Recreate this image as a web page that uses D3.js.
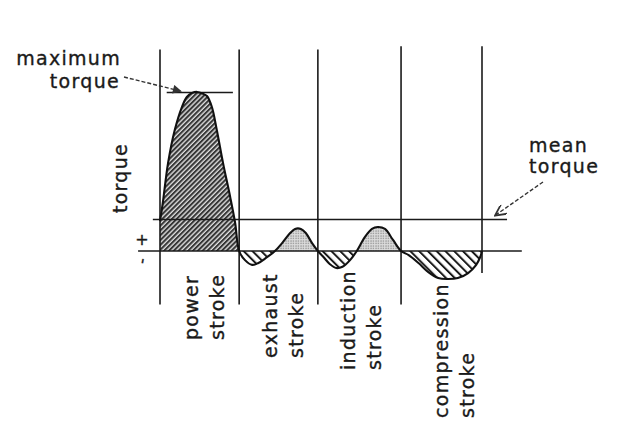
<!DOCTYPE html>
<html><head><meta charset="utf-8">
<script src="https://cdn.jsdelivr.net/npm/d3@7"></script>
<style>
body{margin:0;background:#fff}
svg{display:block}
text{font-family:"DejaVu Sans",sans-serif;font-size:19px;letter-spacing:1.3px;fill:#1a1a1a;stroke:#1a1a1a;stroke-width:0.35px}
</style>
</head><body>
<svg id="c" width="622" height="442"></svg>
<script>
// ---- data (crank angle in degrees, torque in units of mean torque) ----
const strokeNames = [["power","stroke"],["exhaust","stroke"],["induction","stroke"],["compression","stroke"]];
const strokeBounds = [0, 177, 353, 539, 720];
const crankDeg = [0, 6, 18, 33, 49, 60, 72, 83, 95, 105, 116, 127, 141, 157, 168, 177,
  190, 206, 220, 237, 257, 273, 291, 302, 315, 326, 340, 353,
  366, 380, 394, 408, 425, 440, 458, 474, 487, 503, 521, 539,
  556, 578, 600, 622, 644, 666, 689, 707, 716, 720];
const torqueVal = [0.95, 1.5, 2.79, 3.84, 4.57, 4.89, 5.02, 5.05, 5.0, 4.92, 4.57, 3.84, 2.79, 1.71, 0.89, 0,
  -0.29, -0.44, -0.38, -0.22, 0, 0.25, 0.57, 0.70, 0.70, 0.57, 0.25, 0,
  -0.2, -0.42, -0.54, -0.5, -0.29, 0, 0.44, 0.70, 0.76, 0.70, 0.35, 0,
  -0.13, -0.38, -0.67, -0.86, -0.89, -0.86, -0.70, -0.44, -0.19, 0];
const meanTorque = 1.0;
const maxTorque = 5.05;
const axisLabel = "torque";
const maxLabel = ["maximum", "torque"];
const meanLabel = ["mean", "torque"];

// ---- layout ----
const svg = d3.select("#c");
const x = d3.scaleLinear().domain([0, 720]).range([160, 482]);
const y = d3.scaleLinear().domain([0, 5]).range([251, 93.5]);
const pts = crankDeg.map((d, i) => ({deg: d, v: torqueVal[i]}));

const defs = svg.append("defs");
// dense "/" hatch for the power stroke
const pPow = defs.append("pattern").attr("id", "hPow").attr("patternUnits", "userSpaceOnUse")
  .attr("width", 3.4).attr("height", 3.4).attr("patternTransform", "rotate(45)");
pPow.append("rect").attr("width", 3.4).attr("height", 3.4).attr("fill", "#e0e0e0");
pPow.append("line").attr("x1", 1).attr("y1", 0).attr("x2", 1).attr("y2", 3.4)
  .attr("stroke", "#363636").attr("stroke-width", 2.1);
// sparse "\" hatch for negative torque
const pNeg = defs.append("pattern").attr("id", "hNeg").attr("patternUnits", "userSpaceOnUse")
  .attr("width", 6.2).attr("height", 6.2).attr("patternTransform", "rotate(-45)");
pNeg.append("line").attr("x1", 1).attr("y1", 0).attr("x2", 1).attr("y2", 6.2)
  .attr("stroke", "#1a1a1a").attr("stroke-width", 2);
// stipple for positive humps
const pDot = defs.append("pattern").attr("id", "hDot").attr("patternUnits", "userSpaceOnUse")
  .attr("width", 2.5).attr("height", 2.5);
pDot.append("rect").attr("width", 2.5).attr("height", 2.5).attr("fill", "#dcdcdc");
pDot.append("circle").attr("cx", 1).attr("cy", 1).attr("r", 0.7).attr("fill", "#8a8a8a");

defs.append("clipPath").attr("id", "cPow").append("rect")
  .attr("x", x(strokeBounds[0])).attr("y", 0).attr("width", x(strokeBounds[1]) - x(strokeBounds[0])).attr("height", 442);
defs.append("clipPath").attr("id", "cPos").append("rect")
  .attr("x", x(strokeBounds[1])).attr("y", 0).attr("width", x(720) - x(strokeBounds[1]) + 2).attr("height", y(0));
defs.append("clipPath").attr("id", "cNeg").append("rect")
  .attr("x", x(strokeBounds[1])).attr("y", y(0)).attr("width", x(720) - x(strokeBounds[1]) + 2).attr("height", 442 - y(0));

// arrow markers
defs.append("marker").attr("id", "aFill").attr("viewBox", "0 0 10 10").attr("refX", 10).attr("refY", 5)
  .attr("markerWidth", 12).attr("markerHeight", 9).attr("markerUnits", "userSpaceOnUse").attr("orient", "auto")
  .append("path").attr("d", "M0,0L10,5L0,10z").attr("fill", "#333");
defs.append("marker").attr("id", "aOpen").attr("viewBox", "0 0 10 10").attr("refX", 10).attr("refY", 5)
  .attr("markerWidth", 13).attr("markerHeight", 11).attr("markerUnits", "userSpaceOnUse").attr("orient", "auto")
  .append("path").attr("d", "M0,0L10,5L0,10").attr("fill", "none").attr("stroke", "#333").attr("stroke-width", 1.6);

const curve = d3.curveCatmullRom.alpha(0.5);
const area = d3.area().curve(curve).x(d => x(d.deg)).y0(y(0)).y1(d => y(d.v));
const line = d3.line().curve(curve).x(d => x(d.deg)).y(d => y(d.v));

svg.append("path").datum(pts).attr("d", area).attr("fill", "url(#hPow)").attr("clip-path", "url(#cPow)");
svg.append("path").datum(pts).attr("d", area).attr("fill", "url(#hDot)").attr("clip-path", "url(#cPos)");
svg.append("path").datum(pts).attr("d", area).attr("fill", "url(#hNeg)").attr("clip-path", "url(#cNeg)");

// horizontal reference lines
svg.append("line").attr("x1", x(-49)).attr("x2", x(809)).attr("y1", y(0)).attr("y2", y(0))
  .attr("stroke", "#1a1a1a").attr("stroke-width", 1.6);
svg.append("line").attr("x1", x(-16)).attr("x2", x(776)).attr("y1", y(meanTorque)).attr("y2", y(meanTorque))
  .attr("stroke", "#1a1a1a").attr("stroke-width", 1.6);
svg.append("line").attr("x1", x(15)).attr("x2", x(163)).attr("y1", y(maxTorque) + 0.5).attr("y2", y(maxTorque) + 0.5)
  .attr("stroke", "#1a1a1a").attr("stroke-width", 1.5);

// stroke boundaries
svg.selectAll("line.b").data(strokeBounds).enter().append("line").attr("class", "b")
  .attr("x1", d => x(d)).attr("x2", d => x(d))
  .attr("y1", (d, i) => i < 3 ? y(6.4) : y(6.5))
  .attr("y2", (d, i) => i === 4 ? y(-0.7) : y(-1.7))
  .attr("stroke", "#1a1a1a").attr("stroke-width", 1.6);

// torque curve
svg.append("path").datum(pts).attr("d", line).attr("fill", "none")
  .attr("stroke", "#111").attr("stroke-width", 2.1).attr("stroke-linejoin", "round");

// stroke labels
const labelShift = [-2, -1.5, -4.5, 6.5];
const labelBottom = [340, 358, 370, 418];
strokeNames.forEach((names, i) => {
  const mid = x((strokeBounds[i] + strokeBounds[i + 1]) / 2) + labelShift[i];
  names.forEach((t, j) => {
    const bx = mid + j * 26, by = labelBottom[i];
    svg.append("text").attr("transform", `translate(${bx},${by}) rotate(-90)`)
      .attr("text-anchor", "start").text(t);
  });
});

// axis label and signs
svg.append("text").attr("transform", "translate(127,178) rotate(-90)").attr("text-anchor", "middle").text(axisLabel);
svg.append("text").attr("x", 142).attr("y", 245).attr("text-anchor", "middle").style("font-size", "16px").style("letter-spacing", "0").text("+");
svg.append("text").attr("transform", "translate(147,262) rotate(-80)").attr("text-anchor", "middle").style("font-size", "16px").style("letter-spacing", "0").text("-");

// maximum torque annotation
svg.append("text").attr("x", 121).attr("y", 65).attr("text-anchor", "end").text(maxLabel[0]);
svg.append("text").attr("x", 120).attr("y", 88).attr("text-anchor", "end").text(maxLabel[1]);
svg.append("line").attr("x1", 124).attr("y1", 77).attr("x2", x(49)).attr("y2", y(maxTorque) - 0.5)
  .attr("stroke", "#333").attr("stroke-width", 1.4).attr("stroke-dasharray", "4,2").attr("marker-end", "url(#aFill)");

// mean torque annotation
svg.append("text").attr("x", 529).attr("y", 152).text(meanLabel[0]);
svg.append("text").attr("x", 529).attr("y", 173).text(meanLabel[1]);
svg.append("line").attr("x1", 543).attr("y1", 182).attr("x2", x(749)).attr("y2", y(meanTorque) - 4)
  .attr("stroke", "#333").attr("stroke-width", 1.4).attr("stroke-dasharray", "4,2").attr("marker-end", "url(#aOpen)");
</script>
</body></html>
